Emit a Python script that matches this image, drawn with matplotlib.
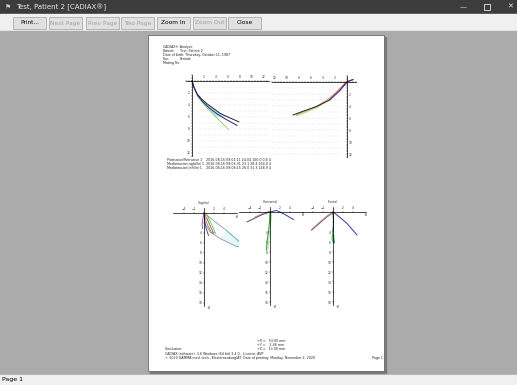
import numpy as np
import matplotlib.pyplot as plt
from matplotlib.patches import Rectangle
from matplotlib.ticker import MultipleLocator

W, H = 517, 385

# --- data (mm) ---
# upper left: sagittal condyle paths, protrusion / mediotrusion
pro_x = [0, 0.3, 0.8, 1.6, 2.5, 3.6, 4.7, 6.2, 7.8]
pro_z = [0, 1.0, 2.1, 3.0, 3.8, 4.6, 5.4, 6.1, 6.8]
ret_x = [0, 0.4, 1.0, 1.9, 3.0, 4.2, 5.5, 6.6, 7.5]
ret_z = [0, 1.2, 2.5, 3.6, 4.6, 5.5, 6.3, 6.9, 7.4]
med_x = [0, 0.4, 1.0, 1.8, 2.8, 3.9, 5.0, 6.1]
med_z = [0, 1.3, 2.6, 3.7, 4.8, 5.9, 7.0, 8.1]

# upper right: other side, mirrored
rpro_x = [-1.0, -0.4, 0, 1.2, 2.9, 5.1, 7.4, 9.0]
rpro_z = [-0.4, -0.2, 0, 1.4, 3.0, 4.1, 4.9, 5.5]
rmed_x = [0, 1.4, 3.2, 5.0, 6.8, 8.4]
rmed_z = [0, 1.5, 3.1, 4.2, 5.0, 5.6]

# lower left: sagittal loop
sag_loop_x = [0, 1.9, 4.5, 7.5, 8.0, 6.5, 3.2, 1.2, 0.2, 0]
sag_loop_z = [0, 1.5, 3.5, 6.1, 6.5, 6.7, 5.1, 3.8, 2.1, 0]
sag_red_x = [0, 0.6, 1.2, 1.9, 1.5, 0.8, 0.2]
sag_red_z = [0, 1.2, 2.4, 4.1, 3.9, 2.6, 1.0]
sag_blue_x = [0, 0.1, 0.4, 0.9]
sag_blue_z = [0, 1.5, 3.0, 4.5]
sag_purple_x = [0, -0.2, -0.4, -0.3]
sag_purple_z = [0, 1.0, 2.2, 3.1]

# lower middle: horizontal
hor_left_x = [0, -1.5, -3.0, -4.6]
hor_left_z = [0, 0.5, 1.2, 2.0]
hor_right_x = [0, 1.3, 2.8, 4.7]
hor_right_z = [0, -0.3, 0.4, 1.5]
hor_down_x = [0, -0.1, -0.3, -0.6, -0.7]
hor_down_z = [0, 2.0, 4.0, 6.0, 7.6]

# lower right: frontal
fro_left_x = [0, -1.2, -2.5, -4.3]
fro_left_z = [0, 0.8, 1.9, 3.5]
fro_right_x = [0, 1.3, 2.8, 4.8]
fro_right_z = [0, 1.0, 2.3, 4.6]
fro_down_x = [0, 0.1, 0.0, -0.2, 0.3, 0.1]
fro_down_z = [0, 2.0, 4.0, 5.5, 6.2, 4.5]

buttons = ["Print...", "Next Page", "Prev Page", "Two Page", "Zoom In", "Zoom Out", "Close"]
button_x = [13, 49, 86, 121, 157, 193, 228]
button_on = [True, False, False, False, True, False, True]

fig = plt.figure(figsize=(W / 100, H / 100), dpi=100)
bg = fig.add_axes([0, 0, 1, 1])
bg.set_xlim(0, W)
bg.set_ylim(H, 0)
bg.axis('off')

# window chrome
bg.add_patch(Rectangle((0, 0), W, 14, color='#3c3c3c'))
bg.text(16, 7, "Test, Patient 2 [CADIAX\u00ae]", color='#e8e8e8', fontsize=5, va='center')
bg.text(5, 7, "\u2691", color='#cccccc', fontsize=5, va='center')
bg.text(463, 7, "\u2014", color='#e8e8e8', fontsize=5, va='center', ha='center')
bg.add_patch(Rectangle((484, 4), 6, 6, fill=False, ec='#e8e8e8', lw=0.6))
bg.text(510, 7, "\u2715", color='#e8e8e8', fontsize=5, va='center', ha='center')
bg.add_patch(Rectangle((0, 14), W, 17, color='#f0f0f0'))
for x, label, on in zip(button_x, buttons, button_on):
    bg.add_patch(Rectangle((x, 17), 33, 12, fc='#e1e1e1', ec='#adadad', lw=0.6))
    bg.text(x + 16.5, 23, label, fontsize=4.2, ha='center', va='center',
            color='black' if on else '#a0a0a0')
bg.add_patch(Rectangle((0, 31), W, 344, color='#ababab'))
bg.add_patch(Rectangle((150, 37), 236, 336, color='#7a7a7a'))
bg.add_patch(Rectangle((148, 35), 236, 336, fc='white', ec='#555555', lw=0.5))
bg.add_patch(Rectangle((0, 375), W, 10, color='#f0f0f0'))
bg.text(2, 380, "Page 1", fontsize=4.5, va='center')

# report header
tf = dict(fontsize=2.3, va='center', color='#222222')
bg.text(163, 47, "CADIAX\u00ae Analyse", **tf)
bg.text(163, 51, "Patient:", **tf); bg.text(180, 51, "Test, Patient 2", **tf)
bg.text(163, 55, "Date of birth: Thursday, October 11, 1987", **tf)
bg.text(163, 59, "Sex:", **tf); bg.text(180, 59, "Female", **tf)
bg.text(163, 63, "Mating No:", **tf)

rows = ["Protrusive/Retrusive 1", "Mediotrusion right/Ini 1", "Mediotrusion left/Ini 1"]
vals = ["2016-08-16 09:01:11 24.04 100.0 0.8 4",
        "2016-08-16 09:06:31 23.1 28.4 164.0 4",
        "2016-08-16 09:08:15 26.0 31.3 148.9 4"]
for i, (r, v) in enumerate(zip(rows, vals)):
    bg.text(167, 160 + 4 * i, r, **tf)
    bg.text(206, 160 + 4 * i, v, **tf)

# footer
for i, s in enumerate(["+X =   53.00 mm", "+Y =    2.46 mm", "+Z =   13.00 mm"]):
    bg.text(257, 341 + 4 * i, s, **tf)
bg.text(165, 349, "Conclusion:", **tf)
bg.text(165, 354, "CADIAX (software): 3.6 Windows (64 bit) 3.4.0 - License: AVP", **tf)
bg.text(165, 358, "\u00a9 2020 GAMMA med. tech., Klosterneuburg/AT", **tf)
bg.text(243, 358, "Date of printing: Monday, November 2, 2020", **tf)
bg.text(372, 358, "Page 1", **tf)


def chart(ox, oy, xlim, ylim, scale, flipx=False):
    sx = -scale if flipx else scale
    left = min(ox + xlim[0] * sx, ox + xlim[1] * sx)
    width = abs(xlim[1] - xlim[0]) * scale
    top = oy + ylim[0] * scale
    height = (ylim[1] - ylim[0]) * scale
    ax = fig.add_axes([left / W, 1 - (top + height) / H, width / W, height / H])
    ax.set_xlim(*xlim)
    ax.set_ylim(ylim[1], ylim[0])
    ax.patch.set_alpha(0)
    for s in ['bottom', 'right', 'left', 'top']:
        ax.spines[s].set_visible(False)
    ax.tick_params(labelsize=2.2, length=1.2, width=0.3, pad=0.8, colors='#333333')
    ax.tick_params(which='minor', length=0.8, width=0.3)
    return ax


def axis_lines(ax, yside):
    ax.spines['top'].set_visible(True)
    ax.spines['top'].set_position(('data', 0))
    ax.spines[yside].set_visible(True)
    ax.spines[yside].set_position(('data', 0))
    for s in ['top', yside]:
        ax.spines[s].set_linewidth(0.5)
    ax.xaxis.tick_top()
    if yside == 'right':
        ax.yaxis.tick_right()
    else:
        ax.yaxis.tick_left()
    ax.tick_params(direction='inout')
    ax.tick_params(which='minor', direction='inout')


# upper left
ax = chart(192, 81, (-1, 12.8), (-1, 12.5), 6)
axis_lines(ax, 'left')
ax.set_xticks([2, 4, 6, 8, 10, 12])
ax.set_yticks([2, 4, 6, 8, 10, 12])
ax.xaxis.set_minor_locator(MultipleLocator(0.5))
ax.yaxis.set_minor_locator(MultipleLocator(0.5))
for g in np.arange(1, 13):
    ax.plot([1, 12.8], [g, g], ls=(0, (1, 2)), lw=0.3, color='#bbbbbb')
ax.fill_betweenx(med_z[:6], med_x[:6], np.interp(med_z[:6], pro_z, pro_x),
                 color='#9fe3e3', alpha=0.7, lw=0)
ax.plot(med_x, med_z, color='#8fd14f', lw=0.6)
ax.plot(pro_x, pro_z, color='#222222', lw=0.7)
ax.plot(ret_x, ret_z, color='#22228f', lw=0.7)

# upper right
ax = chart(347, 82, (12.5, -1.5), (-1, 12.5), 6, flipx=True)
axis_lines(ax, 'right')
ax.set_xticks([2, 4, 6, 8, 10, 12])
ax.set_yticks([2, 4, 6, 8, 10, 12])
ax.xaxis.set_minor_locator(MultipleLocator(0.5))
ax.yaxis.set_minor_locator(MultipleLocator(0.5))
for g in np.arange(1, 13):
    ax.plot([12.5, 1], [g, g], ls=(0, (1, 2)), lw=0.3, color='#bbbbbb')
ax.plot(rmed_x, rmed_z, color='#a8e070', lw=0.8)
ax.plot(rmed_x, np.array(rmed_z) - 0.2, color='#e0704a', lw=0.5)
ax.plot(rpro_x, rpro_z, color='#222222', lw=0.7)
ax.plot(rpro_x[:5], rpro_z[:5], color='#5a2aa0', lw=0.7)

# lower charts
titles = ["Sagittal", "Horizontal", "Frontal"]
origins = [(204, 213), (270, 212), (333, 212)]
axes_low = []
for (ox, oy), t in zip(origins, titles):
    ax = chart(ox, oy, (-6.5, 7), (-2.2, 19.5), 5)
    axis_lines(ax, 'left')
    ax.spines['left'].set_bounds(-1, 18.5)
    ax.spines['top'].set_bounds(-6.2, 6.5)
    ax.set_xticks([-4, -2, 2, 4])
    ax.set_yticks([2, 4, 6, 8, 10, 12, 14, 16, 18])
    ax.set_yticklabels(['', '4', '6', '8', '10', '12', '14', '16', '18'])
    ax.text(0, -1.6, t, fontsize=2.2, ha='center', va='bottom', color='#333333')
    ax.text(6.6, 0.9, "+X", fontsize=2.0, ha='center', color='#333333')
    ax.text(0.5, 19.0, "+Z", fontsize=2.0, ha='left', va='center', color='#333333')
    axes_low.append(ax)

ax = axes_low[0]
ax.fill(sag_loop_x[2:7], sag_loop_z[2:7], color='#e6f7f7', lw=0)
ax.plot(sag_loop_x, sag_loop_z, color='#666666', lw=0.4)
ax.plot(sag_loop_x[2:6], sag_loop_z[2:6], color='#58c8c8', lw=0.5)
ax.plot(sag_red_x, sag_red_z, color='#d04040', lw=0.5)
ax.plot(np.array(sag_red_x) + 0.4, sag_red_z, color='#50b050', lw=0.5)
ax.plot(sag_blue_x, sag_blue_z, color='#2a3aa0', lw=0.6)
ax.plot(sag_purple_x, sag_purple_z, color='#8a3ab0', lw=0.6)

ax = axes_low[1]
ax.plot(hor_left_x, hor_left_z, color='#333333', lw=0.6)
ax.plot(hor_left_x[:3], np.array(hor_left_z[:3]) - 0.2, color='#d06070', lw=0.5)
ax.plot(hor_right_x, hor_right_z, color='#2a3aa0', lw=0.7)
ax.plot(hor_down_x, hor_down_z, color='#2aa040', lw=0.8)
ax.plot(np.array(hor_down_x) + 0.3, hor_down_z, color='#a0d060', lw=0.4)

ax = axes_low[2]
ax.plot(fro_left_x, fro_left_z, color='#d06070', lw=0.6)
ax.plot(fro_left_x, np.array(fro_left_z) + 0.2, color='#333333', lw=0.4)
ax.plot(fro_right_x, fro_right_z, color='#2a3aa0', lw=0.7)
ax.plot(fro_down_x, fro_down_z, color='#2aa040', lw=0.7)
ax.plot(fro_down_x[:3], fro_down_z[:3], color='#222222', lw=0.5)

fig.savefig('out.png', dpi=100)
